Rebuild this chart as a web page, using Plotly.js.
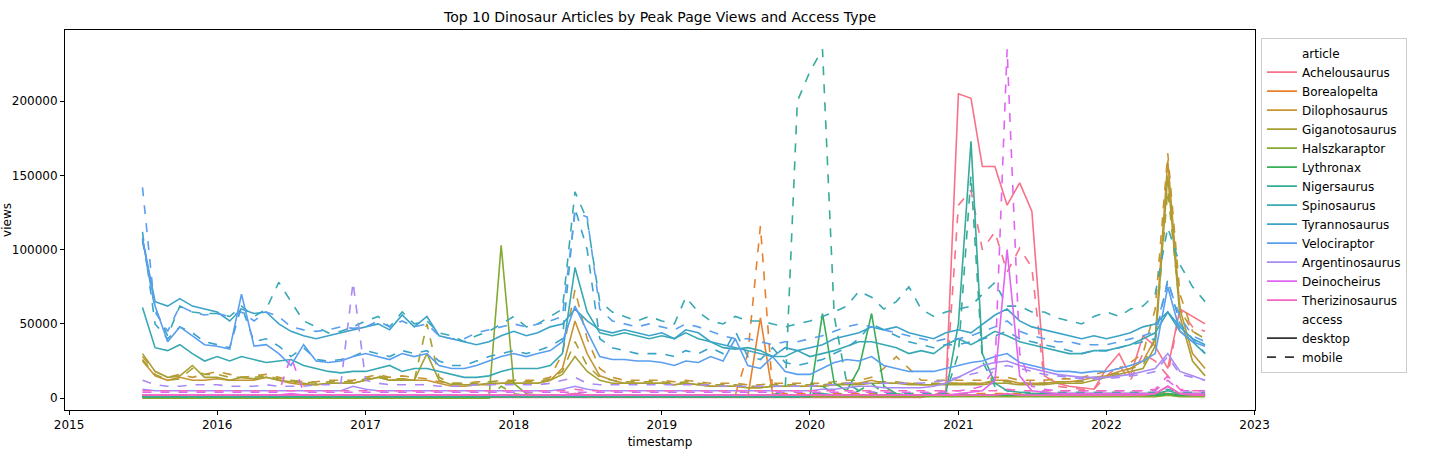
<!DOCTYPE html>
<html><head><meta charset="utf-8">
<script src="https://cdn.plot.ly/plotly-3.0.1.min.js"></script>
<style>body{margin:0}#c{width:1435px;height:468px}</style></head>
<body><div id="c"></div>
<script>
// monthly, 2015-07 .. 2022-09, values in thousands of views
const months = [];
for (let y = 2015; y <= 2022; y++) for (let m = 1; m <= 12; m++) {
  if ((y === 2015 && m < 7) || (y === 2022 && m > 9)) continue;
  months.push(y + '-' + String(m).padStart(2, '0') + '-01');
}
const articles = ['Achelousaurus','Borealopelta','Dilophosaurus','Giganotosaurus','Halszkaraptor','Lythronax','Nigersaurus','Spinosaurus','Tyrannosaurus','Velociraptor','Argentinosaurus','Deinocheirus','Therizinosaurus'];
const colors = ['#f77189','#e7802f','#c69432','#a89f32','#86a932','#37ae59','#36ab97','#38a9b4','#3ba3c8','#5a9ef0','#a98af4','#e065f2','#f566c0'];
const desktop = {
Achelousaurus:[0.5,0.5,0.5,0.5,0.5,0.5,
0.5,0.5,0.5,0.5,0.5,0.5,0.5,0.5,0.5,0.5,0.5,0.5,
0.5,0.5,0.5,0.5,0.5,0.5,0.5,0.5,0.5,0.5,0.5,0.5,
0.5,0.5,0.5,0.5,0.5,0.5,0.5,0.5,0.5,0.5,0.5,0.5,
0.5,0.5,0.5,0.5,0.5,0.5,0.5,0.5,0.5,0.5,0.5,0.5,
0.5,0.5,0.5,0.5,0.5,0.5,0.5,0.5,0.5,0.5,2,5,
205,202,156,156,130,145,126,15,10,8,7,6,
20,30,15,42,35,20,60,55,50],
Borealopelta:[1,1,1,1,1,1,
1,1,1,1,1,1,1,1,1,1,1,1,
1,1,1,1,1,1,1,1,1,1,1,1,
1,1,1,1,1,1,1,1,1,1,1,1,
1,1,1,1,1,1,1,1,54,3,2,2,
2,2,2,2,2,2,2,2,2,2,2,2,
2,2,2,2,2,2,2,2,2,2,2,2,
2,2,2,2,2,3,2,2,2],
Dilophosaurus:[25,15,12,14,12,12,
13,12,12,12,14,12,10,9,9,10,10,10,
12,14,12,13,12,12,10,8,8,9,9,10,
10,10,10,12,20,52,30,15,12,10,10,10,
10,9,10,9,8,8,8,7,7,8,8,8,
8,8,9,10,10,12,10,10,10,9,9,10,
10,10,10,12,12,10,10,10,11,11,12,14,
15,18,20,25,40,160,60,30,20],
Giganotosaurus:[30,18,14,15,22,14,
14,12,14,13,14,12,11,10,9,10,10,10,
12,14,12,12,12,30,12,9,9,9,10,10,
10,10,10,12,16,28,18,12,10,10,10,10,
10,9,10,9,8,8,8,7,7,8,8,8,
8,8,9,9,9,10,10,10,9,9,9,9,
9,9,9,10,10,9,9,9,10,10,10,12,
14,16,18,20,35,150,55,25,15],
Halszkaraptor:[0,0,0,0,0,0,
0,0,0,0,0,0,0,0,0,0,0,0,
0,0,0,0,0,0,0,0,0,0,0,103,
10,3,2,2,2,3,2,1,1,1,1,1,
1,1,1,1,1,1,1,1,1,1,1,1,
1,1,1,1,1,1,1,1,1,1,1,1,
1,1,1,1,1,1,1,1,1,1,1,1,
1,1,1,1,1,2,1,1,1],
Lythronax:[1,1,1,1,1,1,
1,1,1,1,1,1,1,1,1,1,1,1,
1,1,1,1,1,1,1,1,1,1,1,1,
1,1,1,1,1,1,1,1,1,1,1,1,
1,1,1,1,1,1,1,1,1,1,1,1,
1,57,10,5,20,57,8,3,2,2,2,2,
2,2,2,2,2,2,2,2,2,2,2,2,
2,2,2,2,2,3,2,2,2],
Nigersaurus:[1,1,1,1,1,1,
1,1,1,1,1,1,1,1,1,1,1,1,
1,1,1,1,1,1,1,1,1,1,1,1,
1,1,1,1,1,1,1,1,1,1,1,1,
1,1,1,1,1,1,1,1,1,1,1,1,
2,3,2,2,2,2,2,2,2,2,2,3,
50,173,30,10,5,4,3,3,3,3,3,3,
3,3,3,3,3,5,3,3,3],
Spinosaurus:[61,34,32,36,30,25,
28,25,28,26,24,25,26,22,20,18,17,18,
18,20,22,18,20,20,18,16,14,14,15,18,
20,20,20,22,30,88,58,44,42,44,42,40,
42,40,44,40,38,34,33,34,32,28,28,32,
28,30,32,35,38,38,36,34,30,32,30,36,
40,36,40,45,42,38,36,34,32,30,30,32,
32,34,36,40,44,58,45,38,30],
Tyrannosaurus:[107,65,62,67,62,60,
58,52,60,57,58,50,45,42,40,42,44,46,
48,50,46,56,48,55,42,40,38,36,38,42,
45,42,44,48,50,60,52,46,44,46,44,42,
44,40,46,44,38,36,34,32,30,28,34,32,
34,36,40,42,44,48,46,48,44,42,40,44,
46,44,50,56,60,52,48,46,44,42,40,42,
40,42,44,48,50,58,48,40,36],
Velociraptor:[108,62,38,48,42,36,
35,33,70,35,36,30,22,36,25,24,25,28,
30,28,26,30,28,30,22,20,20,22,25,28,
30,28,30,32,38,62,45,28,26,26,25,25,
24,22,25,24,28,25,40,22,20,28,18,16,
16,20,24,26,25,28,22,20,18,18,18,20,
22,24,25,28,30,24,22,20,18,18,17,18,
18,20,22,25,30,75,45,38,35],
Argentinosaurus:[6,5,5,5,5,5,
5,5,5,5,5,5,5,5,5,5,5,8,
6,5,5,5,5,5,5,5,5,5,5,5,
5,5,5,5,6,8,6,5,5,5,5,5,
5,5,5,5,5,5,5,5,5,5,5,5,
5,6,6,7,8,8,7,7,7,7,8,10,
14,18,22,24,25,22,20,18,16,15,14,14,
14,15,16,18,20,30,18,15,12],
Deinocheirus:[2,2,2,2,2,2,
2,2,2,2,2,2,3,2,2,2,2,2,
2,2,2,2,2,2,2,2,2,2,2,2,
2,2,2,2,2,2,2,2,2,2,2,2,
2,2,2,2,2,2,2,2,2,2,2,2,
2,2,2,2,2,2,2,2,2,2,2,2,
3,4,5,12,100,15,5,4,3,3,3,3,
3,3,3,3,3,8,3,3,3],
Therizinosaurus:[2,2,2,2,2,2,
2,2,2,2,2,2,2,2,2,2,2,2,
2,2,2,2,2,2,2,2,2,2,2,2,
2,2,2,2,2,3,2,2,2,2,2,2,
2,2,2,2,2,2,2,2,2,2,2,2,
2,2,2,2,2,2,2,2,2,2,2,2,
2,2,2,2,3,2,2,2,2,2,2,2,
2,2,2,2,3,8,3,2,2]
};
const mobile = {
Achelousaurus:[1,1,1,1,1,1,
1,1,1,1,1,1,1,1,1,1,1,1,
1,1,1,1,1,1,1,1,1,1,1,1,
1,1,1,1,1,1,1,1,1,1,1,1,
1,1,1,1,1,1,1,1,1,1,1,1,
1,1,1,1,1,1,1,1,1,1,2,5,
130,140,100,112,85,101,88,10,8,7,6,6,
15,22,12,30,25,15,60,48,45],
Borealopelta:[2,2,2,2,2,2,
2,2,2,2,2,2,2,2,2,2,2,2,
2,2,2,2,2,2,2,2,2,2,2,2,
2,2,2,2,2,2,2,2,2,2,2,2,
2,2,2,2,2,2,2,30,116,5,3,3,
3,3,3,3,3,3,3,3,3,3,3,3,
3,3,3,3,3,3,3,3,3,3,3,3,
3,3,3,3,3,4,3,3,3],
Dilophosaurus:[28,18,14,16,14,16,
18,16,14,15,16,14,12,11,11,12,12,12,
14,16,14,15,14,13,11,10,10,11,11,12,
12,12,12,14,30,73,40,20,14,12,12,12,
12,11,12,11,10,10,10,9,9,10,10,10,
10,10,11,12,12,14,20,28,20,12,12,12,
12,12,12,14,14,12,12,12,13,13,14,16,
18,20,24,30,60,165,70,45,40],
Giganotosaurus:[26,16,12,13,20,16,
16,14,14,14,15,13,12,11,10,11,11,11,
13,15,13,13,12,50,14,10,10,10,11,11,
11,11,11,13,18,38,22,14,12,11,11,11,
11,10,11,10,9,9,9,8,8,9,9,9,
9,9,10,10,10,11,11,11,10,10,10,10,
10,10,10,11,11,10,10,10,11,11,11,13,
15,17,20,22,40,140,60,45,40],
Halszkaraptor:[0,0,0,0,0,0,
0,0,0,0,0,0,0,0,0,0,0,0,
0,0,0,0,0,0,0,0,0,0,0,8,
3,2,2,2,2,2,2,2,2,2,2,2,
2,2,2,2,2,2,2,2,2,2,2,2,
2,2,2,2,2,2,2,2,2,2,2,2,
2,2,2,2,2,2,2,2,2,2,2,2,
2,2,2,2,2,2,2,2,2],
Lythronax:[1,1,1,1,1,1,
1,1,1,1,1,1,1,1,1,1,1,1,
1,1,1,1,1,1,1,1,1,1,1,1,
1,1,1,1,1,1,1,1,1,1,1,1,
1,1,1,1,1,1,1,1,1,1,1,1,
1,8,3,2,5,10,3,2,2,2,2,2,
2,2,2,2,2,2,2,2,2,2,2,2,
2,2,2,2,2,2,2,2,2],
Nigersaurus:[2,2,2,2,2,2,
2,2,2,2,2,2,2,2,2,2,2,2,
2,2,2,2,2,2,2,2,2,2,2,2,
2,2,2,2,2,2,2,2,2,2,2,2,
2,2,2,2,2,2,2,2,2,2,5,200,
220,235,55,10,5,4,3,3,3,3,3,3,
30,150,25,8,5,4,4,4,4,4,4,4,
4,4,4,4,4,6,4,4,4],
Spinosaurus:[106,60,42,62,58,57,
57,55,62,55,60,78,65,52,48,44,45,48,
52,55,48,58,50,52,44,42,38,42,45,50,
55,48,50,55,60,139,120,65,58,55,52,55,
52,50,68,58,52,50,55,52,52,50,48,50,
52,55,58,62,72,68,60,65,75,60,55,58,
60,62,70,78,62,62,58,58,54,52,50,55,
58,55,60,62,70,115,90,75,65],
Tyrannosaurus:[112,50,40,48,44,38,
36,34,62,38,40,35,28,34,26,25,26,28,
32,30,28,32,30,32,25,22,22,25,28,30,
32,30,32,35,40,128,100,40,34,32,30,30,
30,28,32,30,34,30,45,28,26,34,24,22,
24,26,30,34,40,50,46,42,38,36,34,36,
36,38,40,42,45,40,38,36,34,32,30,32,
32,34,36,38,40,80,50,40,30],
Velociraptor:[142,58,45,62,58,56,
57,55,58,52,58,55,48,46,45,46,48,47,
48,52,48,52,48,50,42,40,40,44,46,48,
50,48,50,52,55,125,122,60,52,50,48,50,
48,46,50,48,45,42,40,40,38,36,38,38,
40,42,45,48,50,48,46,44,42,40,38,40,
40,42,45,48,52,45,42,40,38,38,36,36,
36,38,40,42,45,78,55,42,38],
Argentinosaurus:[12,9,8,8,9,9,
9,8,8,8,9,8,8,8,9,9,10,78,
12,10,9,9,9,9,8,8,8,9,9,9,
9,9,9,10,12,14,10,9,9,9,9,9,
9,9,9,9,9,8,8,8,8,8,8,8,
8,9,9,10,10,10,10,10,10,10,11,12,
14,16,18,20,22,20,18,16,15,14,13,13,
13,14,15,16,18,28,16,14,12],
Deinocheirus:[4,4,4,4,4,4,
4,4,4,4,4,4,28,4,4,4,4,4,
4,4,4,4,4,4,4,4,4,4,4,4,
4,4,4,4,4,4,4,4,4,4,4,4,
4,4,4,4,4,4,4,4,4,4,4,4,
4,4,4,4,4,4,4,4,4,4,4,4,
5,6,8,20,235,30,8,6,5,5,5,5,
5,5,5,5,5,12,5,5,5],
Therizinosaurus:[5,5,5,5,5,5,
5,5,5,5,5,5,5,5,5,5,5,5,
5,5,5,5,5,5,5,5,5,5,5,5,
5,5,5,5,5,6,5,5,5,5,5,5,
5,5,5,5,5,5,5,5,5,5,5,5,
5,5,5,5,5,5,5,5,5,5,5,5,
5,5,5,5,6,5,5,5,5,5,5,5,
5,5,5,5,6,15,6,5,5]
};
const K = 1000;
const traces = [];
traces.push({x:[null],y:[null],name:'article',mode:'lines',line:{color:'rgba(0,0,0,0)'},showlegend:true,hoverinfo:'skip'});
articles.forEach((a,i)=>{
  traces.push({x:months,y:desktop[a].map(v=>v*K),name:a,mode:'lines',line:{color:colors[i],width:1.6},legendgroup:a});
  traces.push({x:months,y:mobile[a].map(v=>v*K),name:a+' mobile',mode:'lines',line:{color:colors[i],width:1.6,dash:'dash'},legendgroup:a,showlegend:false});
});
traces.push({x:[null],y:[null],name:'access',mode:'lines',line:{color:'rgba(0,0,0,0)'},hoverinfo:'skip'});
traces.push({x:[null],y:[null],name:'desktop',mode:'lines',line:{color:'#333',width:1.6}});
traces.push({x:[null],y:[null],name:'mobile',mode:'lines',line:{color:'#333',width:1.6,dash:'dash'}});
const ax = {showgrid:false,zeroline:false,showline:true,mirror:true,linecolor:'black',linewidth:1,ticks:'outside',ticklen:4,tickcolor:'black',tickfont:{size:12,color:'black'}};
Plotly.newPlot('c',traces,{
  width:1435,height:468,
  margin:{l:65,r:180,t:30,b:58},
  font:{family:'DejaVu Sans',size:12,color:'black'},
  title:{text:'Top 10 Dinosaur Articles by Peak Page Views and Access Type',x:0.5,xref:'paper',y:0.975,font:{size:14}},
  xaxis:Object.assign({},ax,{type:'date',range:['2014-12-22','2023-01-02'],dtick:'M12',tick0:'2016-01-01',tickformat:'%Y',title:{text:'timestamp',standoff:6,font:{size:12}}}),
  yaxis:Object.assign({},ax,{range:[-8000,248000],dtick:50000,tickformat:'d',title:{text:'views',standoff:8,font:{size:12}}}),
  showlegend:true,
  legend:{x:1.005,y:0.98,xanchor:'left',yanchor:'top',bordercolor:'#ccc',borderwidth:1,font:{size:12},tracegroupgap:0,itemwidth:30},
  plot_bgcolor:'white',paper_bgcolor:'white'
},{displayModeBar:false});
</script></body></html>
